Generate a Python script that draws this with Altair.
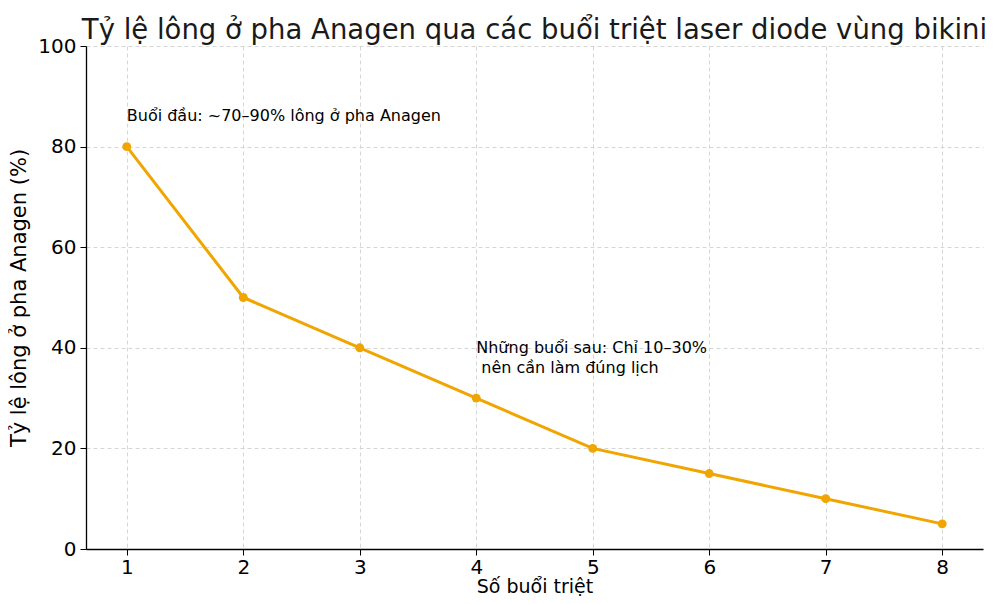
import altair as alt
import pandas as pd

sessions = [1, 2, 3, 4, 5, 6, 7, 8]
anagen_pct = [80, 50, 40, 30, 20, 15, 10, 5]

first_note = pd.DataFrame({"x": [1], "y": [85], "label": ["Buổi đầu: ~70–90% lông ở pha Anagen"]})
later_note_1 = pd.DataFrame({"x": [4], "y": [35], "label": ["Những buổi sau: Chỉ 10–30%"]})
later_note_2 = pd.DataFrame({"x": [4], "y": [35], "label": ["nên cần làm đúng lịch"]})

df = pd.DataFrame({"session": sessions, "pct": anagen_pct})

FONT = "DejaVu Sans"
ORANGE = "#f0a500"

x_enc = alt.X(
    "session:Q",
    title="Số buổi triệt",
    scale=alt.Scale(domain=[0.65, 8.35], nice=False, zero=False),
    axis=alt.Axis(values=sessions, format="d"),
)
y_enc = alt.Y(
    "pct:Q",
    title="Tỷ lệ lông ở pha Anagen (%)",
    scale=alt.Scale(domain=[0, 100], nice=False),
    axis=alt.Axis(values=[0, 20, 40, 60, 80, 100]),
)

line = (
    alt.Chart(df)
    .mark_line(color=ORANGE, strokeWidth=3, point=alt.OverlayMarkDef(color=ORANGE, size=80, opacity=1))
    .encode(x=x_enc, y=y_enc)
)


def note(data, dx, dy):
    return (
        alt.Chart(data)
        .mark_text(align="left", baseline="alphabetic", dx=dx, dy=dy, font=FONT, fontSize=16, color="black")
        .encode(x=alt.X("x:Q"), y=alt.Y("y:Q"), text="label")
    )


chart = (
    alt.layer(line, note(first_note, 0, 0), note(later_note_1, 0, -20), note(later_note_2, 5, 0))
    .properties(
        width=897,
        height=503,
        autosize=alt.AutoSizeParams(type="none"),
        padding={"left": 78, "top": 38, "right": 9, "bottom": 47},
        title=alt.TitleParams(
            "Tỷ lệ lông ở pha Anagen qua các buổi triệt laser diode vùng bikini",
            font=FONT,
            fontSize=27.5,
            fontWeight="normal",
            color="#1a1a1a",
            offset=-8,
        ),
    )
    .configure_view(stroke=None)
    .configure_axis(
        labelFont=FONT,
        labelFontSize=20,
        labelColor="black",
        titleFont=FONT,
        titleFontSize=21,
        titleFontWeight="normal",
        titleColor="black",
        domainColor="black",
        domainWidth=1.3,
        tickColor="black",
        tickSize=6,
        tickWidth=1,
        labelPadding=4,
        grid=True,
        gridColor="#cccccc",
        gridDash=[4, 3],
        gridWidth=0.8,
    )
    .configure_axisX(titleY=43, titleBaseline="alphabetic", titleFontSize=19, labelPadding=2)
    .configure_axisY(titlePadding=8)
)

chart.save("out.html", embed_options={"renderer": "svg", "actions": False})
